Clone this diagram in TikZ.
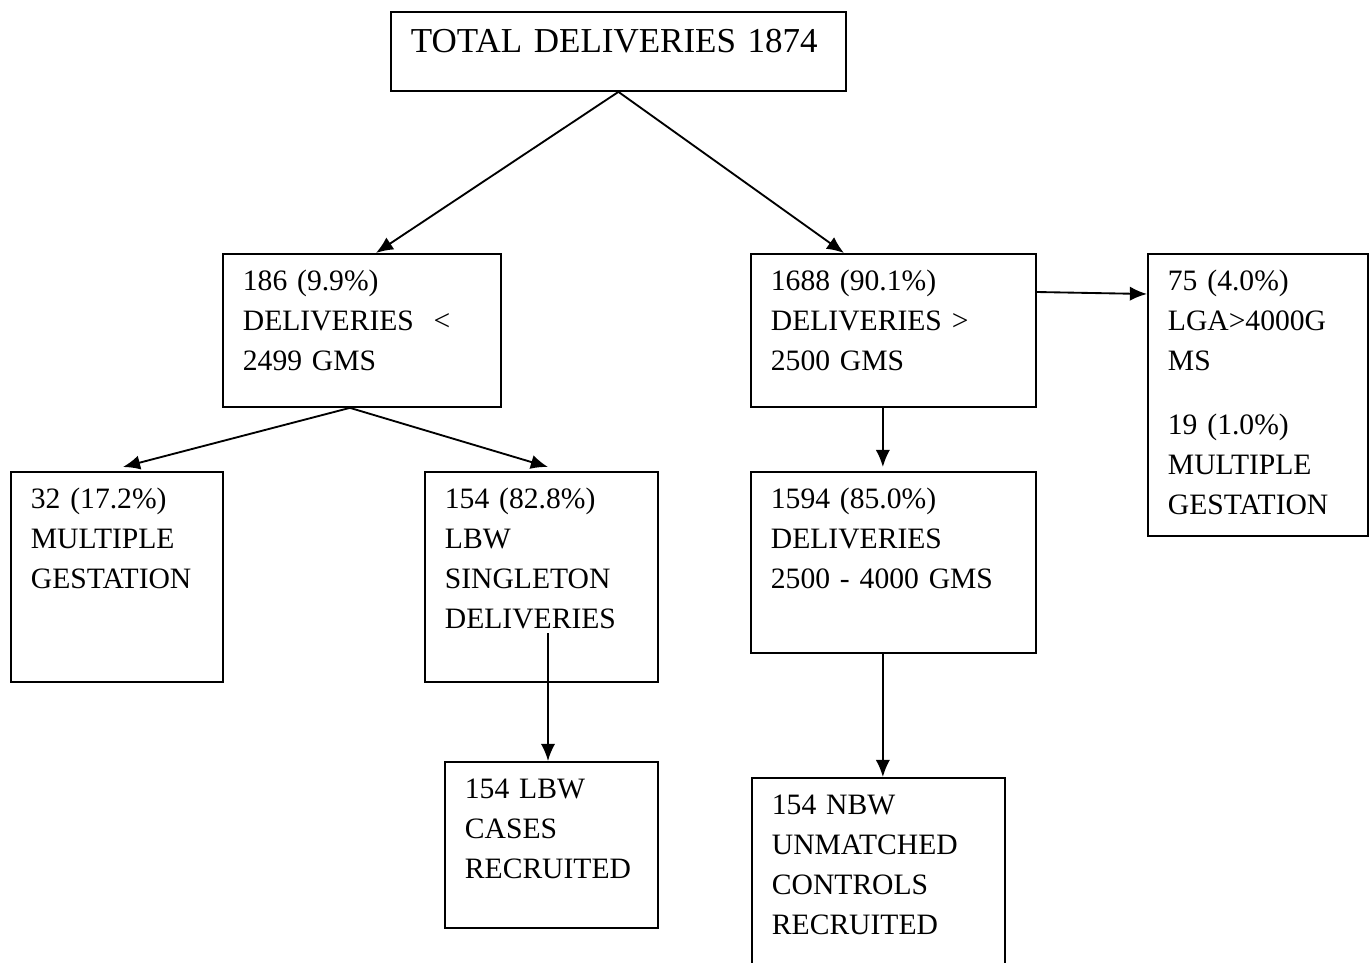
\documentclass[tikz,border=0pt]{standalone}
\usepackage{fontspec}
\setmainfont{Liberation Serif}
\usetikzlibrary{arrows.meta}

\begin{document}
\begin{tikzpicture}[x=0.35pt,y=-0.35pt]
\tikzstyle{cell}=[draw, line width=0.65pt, anchor=north west, align=left, inner xsep=7pt, inner ysep=0pt, text height=12.95pt, font=\fontsize{10.36pt}{14pt}\selectfont]

\tikzstyle{connect}=[-{Latex[length=6pt,width=5pt]}, line width=0.65pt]
\clip (0,0) rectangle (1369,962);

  \node[cell, text width=145.25pt, text height=14.35pt, text depth=13.3pt, font=\fontsize{12.25pt}{14pt}\selectfont] (total) at (390,11) {TOTAL DELIVERIES 1874};

  \node[cell, text width=83.3pt, text depth=40.6pt] (low) at (222,253) {186 (9.9\%)\\DELIVERIES\ \ <\\2499 GMS};
  \node[cell, text width=85.75pt, text depth=40.6pt] (high) at (750,253) {1688 (90.1\%)\\DELIVERIES >\\2500 GMS};
  \node[cell, text width=63pt, text depth=85.75pt] (large) at (1147,253) {75 (4.0\%)\\LGA>4000G\\MS\\[8.4pt]19 (1.0\%)\\MULTIPLE\\GESTATION};

  \node[cell, text width=60.2pt, text depth=60.55pt] (multi) at (10,471) {32 (17.2\%)\\MULTIPLE\\GESTATION};
  \node[cell, text width=67.55pt, text depth=60.55pt] (single) at (424,471) {154 (82.8\%)\\LBW\\SINGLETON\\DELIVERIES};
  \node[cell, text width=85.75pt, text depth=50.4pt] (normal) at (750,471) {1594 (85.0\%)\\DELIVERIES\\2500 - 4000 GMS};

  \node[cell, text width=60.55pt, text depth=45.15pt] (cases) at (444,761) {154 LBW\\CASES\\RECRUITED};
  \node[cell, text width=74.55pt, text depth=64.05pt] (controls) at (751,777) {154 NBW\\UNMATCHED\\CONTROLS\\RECRUITED};

  \path (total.south) edge [connect] ([xshift=4.9pt]low.north);
  \path (total.south) edge [connect] ([xshift=-17.3pt]high.north);
  \path ([yshift=-13.65pt]high.north east) edge [connect] ([yshift=-14.35pt]large.north west);

  \path ([xshift=-4.2pt]low.south) edge [connect] ([xshift=2.1pt,yshift=1.4pt]multi.north);
  \path ([xshift=-4.2pt]low.south) edge [connect] ([xshift=2.3pt,yshift=1.4pt]single.north);
  \path ([xshift=-3.7pt]high.south) edge [connect] ([xshift=-3.7pt,yshift=1.4pt]normal.north);

  \coordinate (single-out) at (548,633);
  \path (single-out) edge [connect] (single-out |- cases.north);
  \path ([xshift=-3.7pt]normal.south) edge [connect] ([xshift=-3.7pt]normal.south |- controls.north);
\end{tikzpicture}
\end{document}
